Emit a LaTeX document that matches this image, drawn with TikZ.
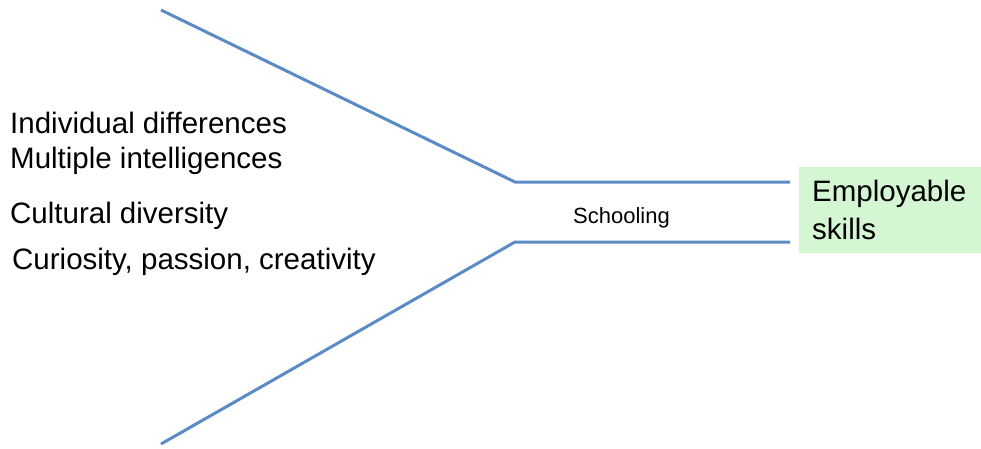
\documentclass[tikz,border=0pt]{standalone}
\usepackage{fontspec}
\setmainfont{Liberation Sans}
\usepackage{tikz}
\usetikzlibrary{positioning}

\definecolor{funnelblue}{HTML}{5B8BC7}
\definecolor{skillgreen}{HTML}{D5F6D3}

\tikzset{
    funnel/.style={draw=funnelblue, line width=3pt, line join=miter},
    factor/.style={anchor=base west, inner sep=0pt, font=\fontsize{29.5}{34}\selectfont},
}

\begin{document}
\begin{tikzpicture}[x=1pt, y=-1pt]
    \useasboundingbox (0, 0) rectangle (981, 448);

    \node[factor] (indiv) at (10, 133) {Individual differences};
    \node[factor] (multi) at (10, 168) {Multiple intelligences};
    \node[factor] (cult) at (10, 223) {Cultural diversity};
    \node[factor] (curio) at (12, 269) {Curiosity, passion, creativity};

    \node[anchor=base west, inner sep=0pt, font=\fontsize{22}{26}\selectfont] (school) at (573, 223) {Schooling};

    \node[fill=skillgreen, anchor=north west, minimum width=182pt, minimum height=86pt,
          inner xsep=13pt, text width=156pt, align=left,
          font=\fontsize{29.5}{38}\selectfont] (skills) at (799, 167) {Employable\\skills};

    \coordinate (topin) at (161, 10);
    \coordinate (topneck) at (515, 182);
    \coordinate (topout) at (790, 182);
    \coordinate (botin) at (161, 444);
    \coordinate (botneck) at (515, 242);
    \coordinate (botout) at (790, 242);

    \draw[funnel] (topin) -- (topneck) -- (topout);
    \draw[funnel] (botin) -- (botneck) -- (botout);
\end{tikzpicture}
\end{document}
